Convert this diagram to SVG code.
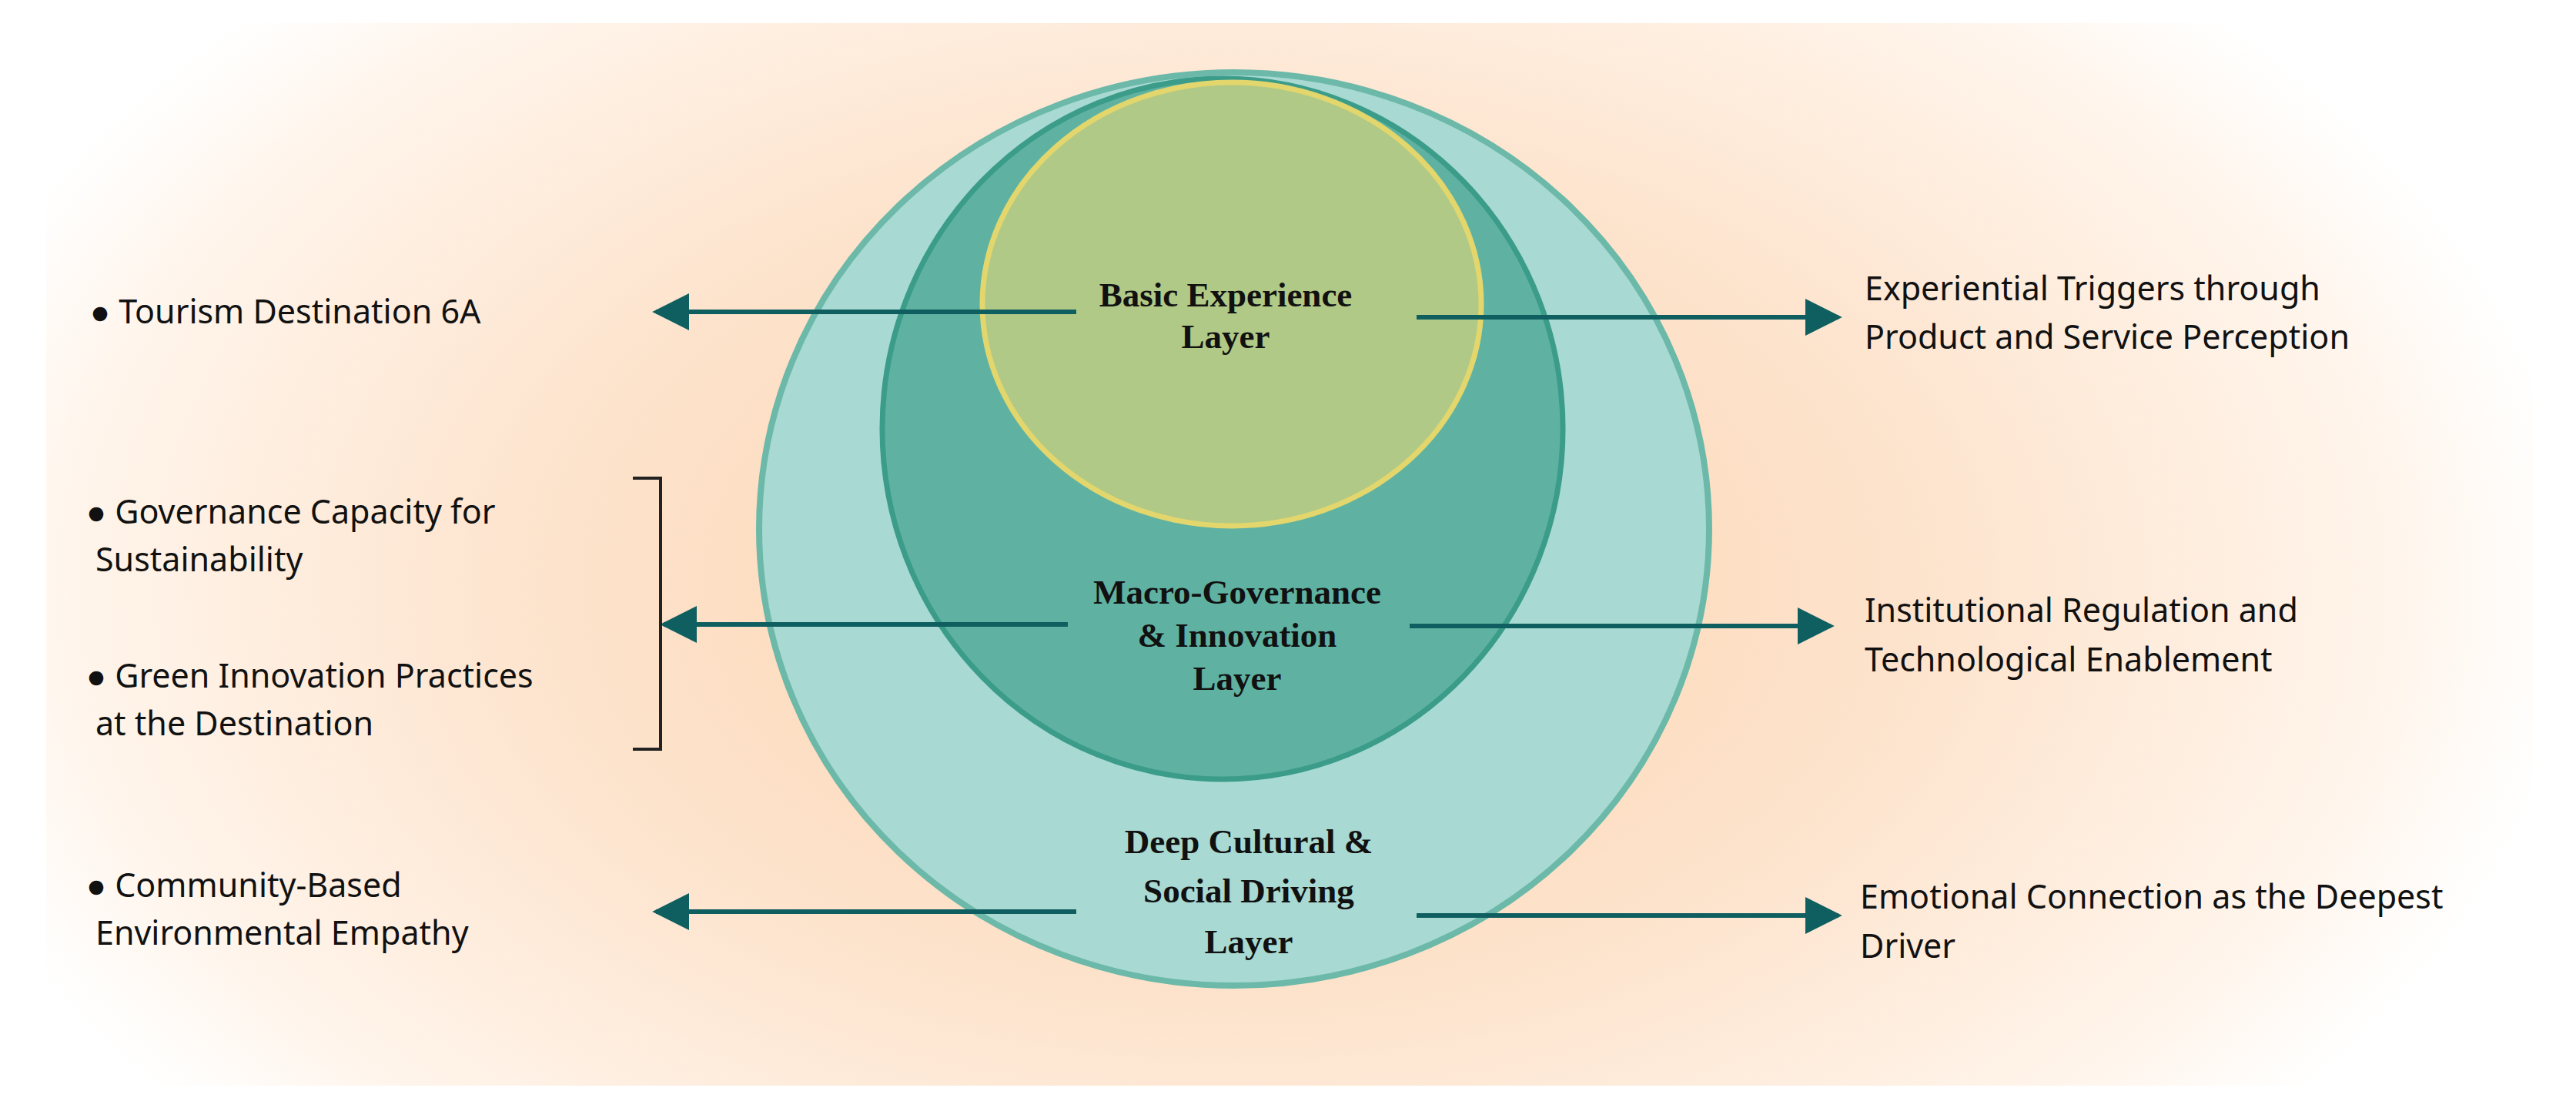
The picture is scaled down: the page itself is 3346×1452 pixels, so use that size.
<svg xmlns="http://www.w3.org/2000/svg" width="3346" height="1452" viewBox="0 0 3346 1452">
<defs>
<radialGradient id="bg" cx="1600" cy="760" r="1750" gradientUnits="userSpaceOnUse" gradientTransform="translate(1600 760) scale(1 0.62) translate(-1600 -760)">
<stop offset="0" stop-color="#fcd3ae"/>
<stop offset="0.5" stop-color="#fde3cc"/>
<stop offset="0.85" stop-color="#fff4ea"/>
<stop offset="1" stop-color="#ffffff"/>
</radialGradient>
<marker id="ah" viewBox="0 0 10 10" refX="9" refY="5" markerWidth="7" markerHeight="7" markerUnits="userSpaceOnUse" orient="auto-start-reverse">
<path d="M0,0 L10,5 L0,10 z" fill="#0f5f60"/>
</marker>
<marker id="a2" viewBox="0 0 10 10" refX="9" refY="5" markerWidth="8" markerHeight="8" orient="auto" markerUnits="strokeWidth"><path d="M0,0 L10,5 L0,10 z" fill="#0f5f60"/></marker>
<style>
.lt{font-family:"Noto Sans","Open Sans","Liberation Sans",sans-serif;font-size:43px;fill:#111}
.ct{font-family:"Liberation Serif","Times New Roman",serif;font-weight:bold;font-size:45px;fill:#111;text-anchor:middle}
.cn{stroke:#0f5f60;stroke-width:6;fill:none;marker-end:url(#a2)}
</style>
</defs>
<rect x="0" y="0" width="3346" height="1452" fill="#ffffff"/>
<rect x="60" y="30" width="3230" height="1380" fill="url(#bg)"/>
<g id="outer"><ellipse cx="1603" cy="687" rx="617" ry="593" fill="#a8d9d2" stroke="#6cb9a9" stroke-width="8"/></g>
<g id="middle"><ellipse cx="1588" cy="557" rx="442" ry="455" fill="#5fb2a2" stroke="#3c9c8a" stroke-width="7"/></g>
<g id="inner"><ellipse cx="1600" cy="395" rx="324" ry="288" fill="#b1c986" stroke="#e2d66c" stroke-width="7"/></g>
<g id="labels">
<text class="ct" x="1592" y="398">Basic Experience</text>
<text class="ct" x="1592" y="452">Layer</text>
<text class="ct" x="1607" y="784">Macro-Governance</text>
<text class="ct" x="1607" y="840">&amp; Innovation</text>
<text class="ct" x="1607" y="896">Layer</text>
<text class="ct" x="1622" y="1108">Deep Cultural &amp;</text>
<text class="ct" x="1622" y="1172">Social Driving</text>
<text class="ct" x="1622" y="1238">Layer</text>
</g>
<g id="connectors">
<line class="cn" x1="1398" y1="405" x2="852" y2="405"/>
<line class="cn" x1="1840" y1="412" x2="2388" y2="412"/>
<line class="cn" x1="1387" y1="811" x2="862" y2="811"/>
<line class="cn" x1="1831" y1="813" x2="2378" y2="813"/>
<line class="cn" x1="1398" y1="1184" x2="852" y2="1184"/>
<line class="cn" x1="1840" y1="1189" x2="2388" y2="1189"/>
<path d="M822,621 H858 V973 H822" fill="none" stroke="#222" stroke-width="4"/>
</g>
<g id="left">
<text class="lt" x="117" y="420">● Tourism Destination 6A</text>
<text class="lt" x="112" y="680">● Governance Capacity for</text>
<text class="lt" x="124" y="742">Sustainability</text>
<text class="lt" x="112" y="893">● Green Innovation Practices</text>
<text class="lt" x="124" y="955">at the Destination</text>
<text class="lt" x="112" y="1165">● Community-Based</text>
<text class="lt" x="124" y="1227">Environmental Empathy</text>
</g>
<g id="right">
<text class="lt" x="2422" y="390">Experiential Triggers through</text>
<text class="lt" x="2422" y="453">Product and Service Perception</text>
<text class="lt" x="2422" y="808">Institutional Regulation and</text>
<text class="lt" x="2422" y="872">Technological Enablement</text>
<text class="lt" x="2416" y="1180">Emotional Connection as the Deepest</text>
<text class="lt" x="2416" y="1244">Driver</text>
</g>
</svg>
